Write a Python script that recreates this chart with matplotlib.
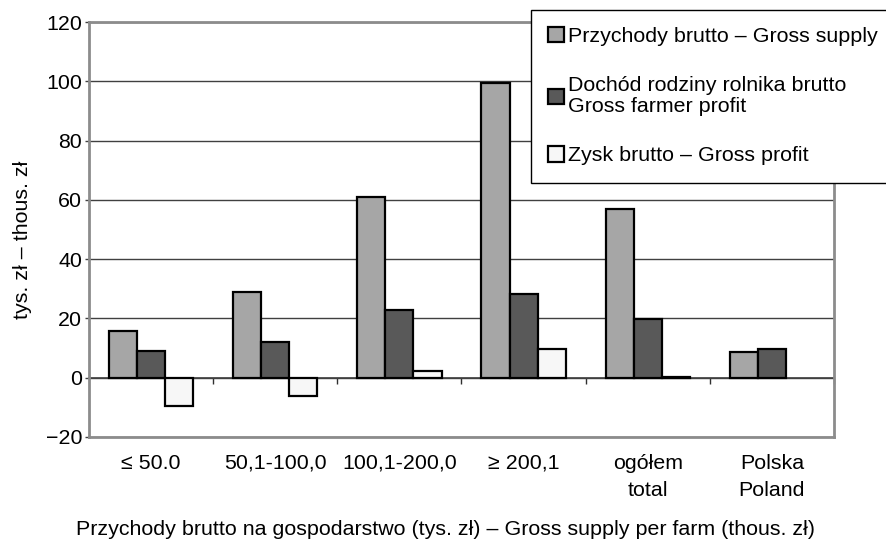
import numpy as np
import matplotlib
matplotlib.use("Agg")
import matplotlib.pyplot as plt

plt.rcParams['font.family'] = ['Liberation Sans', 'DejaVu Sans']

# dane (tys. zl)
kategorie = ['\u2264 50.0', '50,1-100,0', '100,1-200,0', '\u2265 200,1',
             'og\u00f3\u0142em\ntotal', 'Polska\nPoland']
przychody = [15.7, 28.8, 61.0, 99.4, 57.0, 8.8]
dochod = [9.1, 12.1, 23.0, 28.3, 19.8, 9.7]
zysk = [-9.5, -6.3, 2.4, 9.7, 0.4, np.nan]

serie_nazwy = ['Przychody brutto \u2013 Gross supply',
               'Doch\u00f3d rodziny rolnika brutto\nGross farmer profit',
               'Zysk brutto \u2013 Gross profit']
kolory = ['#a6a6a6', '#595959', '#f7f7f7']

fs = 15.4

fig = plt.figure(figsize=(8.87, 5.39), dpi=100)
ax = fig.add_axes([89 / 887, 1 - 437 / 539, (834 - 89) / 887, (437 - 22) / 539])

x = np.arange(len(kategorie))
w = 0.226
for i, (vals, kol, nazwa) in enumerate(zip([przychody, dochod, zysk], kolory, serie_nazwy)):
    ax.bar(x + (i - 1) * w, vals, width=w, color=kol, edgecolor='black',
           linewidth=1.6, label=nazwa, zorder=3)

ax.set_xlim(-0.5, len(kategorie) - 0.5)
ax.set_ylim(-20, 120)
ax.set_yticks(np.arange(-20, 121, 20))
ax.set_yticklabels(['\u221220'] + [str(v) for v in range(0, 121, 20)])
ax.yaxis.grid(True, color='#404040', linewidth=1.0)
ax.set_axisbelow(True)

for s in ax.spines.values():
    s.set_color('#8c8c8c')
    s.set_linewidth(2)

ax.tick_params(axis='y', direction='out', length=3, width=1, color='#404040',
               labelsize=fs, pad=2)
ax.set_xticks(x)
ax.set_xticklabels(kategorie, fontsize=fs, linespacing=1.55, va='top')
ax.tick_params(axis='x', length=0, pad=12)

# os zerowa z kreskami miedzy grupami
sec = ax.secondary_xaxis(20 / 140)
sec.set_xticks(np.arange(len(kategorie)) + 0.5)
sec.set_xticklabels([])
sec.tick_params(direction='out', length=4, width=1, color='#303030')
sec.spines['bottom'].set_color('#404040')
sec.spines['bottom'].set_linewidth(1.2)

ax.set_ylabel('tys. z\u0142 \u2013 thous. z\u0142', fontsize=fs)
ax.yaxis.set_label_coords(-0.077, 0.475)
ax.set_xlabel('Przychody brutto na gospodarstwo (tys. z\u0142) \u2013 Gross supply per farm (thous. z\u0142)',
              fontsize=fs, labelpad=12)
ax.xaxis.set_label_coords(0.479, -0.2)

leg = fig.legend(loc='upper left', bbox_to_anchor=(531 / 887, 1 - 10 / 539),
                 frameon=True, fancybox=False, fontsize=fs, handlelength=0.72,
                 handleheight=0.72, handletextpad=0.2, labelspacing=1.4,
                 borderpad=0.8, borderaxespad=0)
for t in leg.get_texts():
    t.set_linespacing(1.15)
leg.get_frame().set_edgecolor('black')
leg.get_frame().set_linewidth(1.0)
leg.get_frame().set_alpha(1)

fig.savefig('out.png', dpi=100)
